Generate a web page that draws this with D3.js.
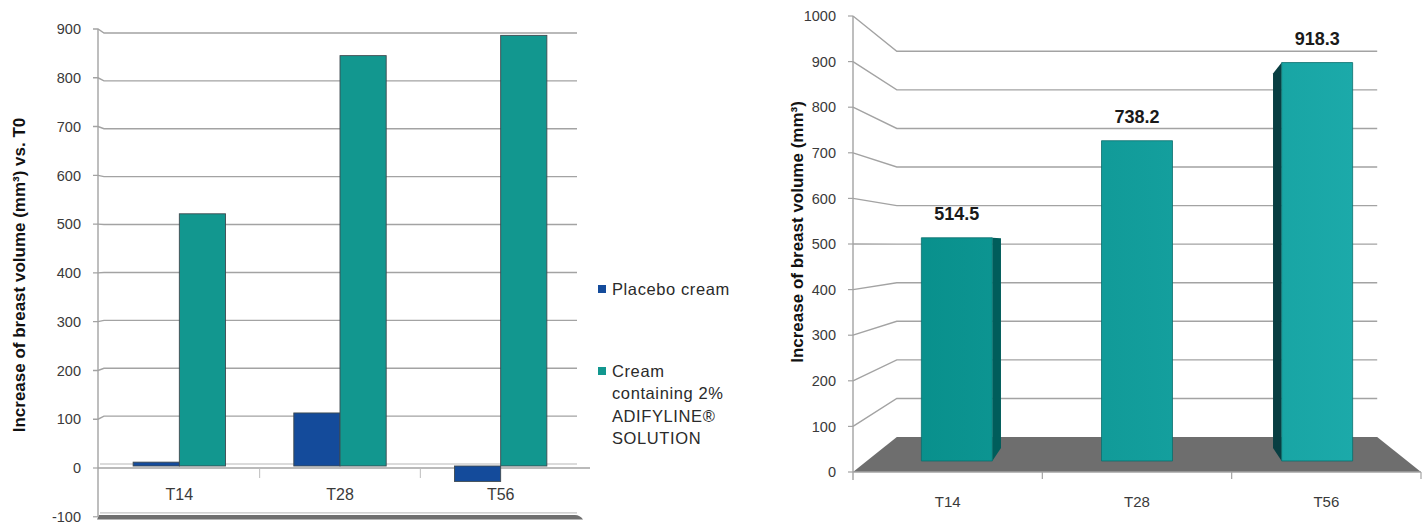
<!DOCTYPE html>
<html>
<head>
<meta charset="utf-8">
<script src="https://cdn.jsdelivr.net/npm/d3@7/dist/d3.min.js"></script>
<style>
  html, body { margin: 0; padding: 0; background: #ffffff; }
  svg { display: block; }
  text { font-family: "Liberation Sans", Arial, sans-serif; }
</style>
</head>
<body>
<svg id="chart" width="1426" height="527"></svg>
<script>
// ---- data ----
const categories = ["T14", "T28", "T56"];
const seriesNames = ["Placebo cream", "Cream containing 2% ADIFYLINE® SOLUTION"];
const placeboValues = [8, 110, -32];
const adifylineValues = [523, 851, 893];
const leftTicks = [-100, 0, 100, 200, 300, 400, 500, 600, 700, 800, 900];

const volumeValues = [514.5, 738.2, 918.3];
const rightTicks = [0, 100, 200, 300, 400, 500, 600, 700, 800, 900, 1000];

const legendLines = [["Placebo cream"], ["Cream", "containing 2%", "ADIFYLINE®", "SOLUTION"]];

const svg = d3.select("#chart");
const gridColor = "#a3a3a3";
const textColor = "#3a3a3a";

// =========================================================
// Left chart: clustered columns, placebo vs. active cream
// =========================================================
const L = svg.append("g");
const yFront = d3.scaleLinear().domain([0, 900]).range([468, 29]);
const yBack = d3.scaleLinear().domain([0, 900]).range([464, 33]);
const yBar = d3.scaleLinear().domain([0, 900]).range([466, 32]);
const xL = d3.scaleBand().domain(categories).range([99, 581]).paddingInner(0.425).paddingOuter(0.2125);
const xSeries = d3.scaleBand().domain([0, 1]).range([0, xL.bandwidth()]);
const seriesColors = ["#144b9b", "#12978f"];

// gridlines with a short receding segment at the wall
leftTicks.filter(v => v > 0).forEach(v => {
  L.append("path")
    .attr("d", `M93,${yFront(v)} H98 L104,${yBack(v)} H577`)
    .attr("fill", "none").attr("stroke", gridColor).attr("stroke-width", 1.4);
});
// tick marks for 0 and -100
[0, -100].forEach(v => {
  L.append("line").attr("x1", 93).attr("x2", 98)
    .attr("y1", yFront(v)).attr("y2", yFront(v))
    .attr("stroke", gridColor).attr("stroke-width", 1.2);
});
// zero plane: back edge and front edge
L.append("line").attr("x1", 100).attr("x2", 577)
  .attr("y1", yBack(0)).attr("y2", yBack(0))
  .attr("stroke", "#b8b8b8").attr("stroke-width", 1.2);
L.append("line").attr("x1", 98).attr("x2", 590)
  .attr("y1", yFront(0)).attr("y2", yFront(0))
  .attr("stroke", gridColor).attr("stroke-width", 1.3);

// floor at -100
L.append("line").attr("x1", 100).attr("x2", 577)
  .attr("y1", yBack(-100) + 1).attr("y2", yBack(-100) + 1)
  .attr("stroke", "#c4c4c4").attr("stroke-width", 1.2);
const fy = yBack(-100) + 3;
L.append("path")
  .attr("d", `M99,${fy} H575 Q580,${fy} 583,${fy + 4.5} H97 Z`)
  .attr("fill", "#6f6f6f");

// value axis
L.append("line").attr("x1", 98).attr("x2", 98)
  .attr("y1", yFront(900)).attr("y2", yFront(-100))
  .attr("stroke", gridColor).attr("stroke-width", 1.4);

// category ticks
[1, 2].forEach(i => {
  const x = xL.range()[0] + i * xL.step();
  L.append("line").attr("x1", x).attr("x2", x)
    .attr("y1", yFront(0)).attr("y2", yFront(0) + 10)
    .attr("stroke", "#bdbdbd").attr("stroke-width", 1);
});

// tick labels
L.selectAll("text.ytick").data(leftTicks).join("text")
  .attr("class", "ytick")
  .attr("x", 81).attr("y", d => yFront(d))
  .attr("dy", "0.36em").attr("text-anchor", "end")
  .attr("font-size", 14.5).attr("fill", textColor)
  .text(d => d);

// bars
categories.forEach((c, i) => {
  [placeboValues[i], adifylineValues[i]].forEach((v, s) => {
    const y0 = yBar(0), y1 = yBar(v);
    L.append("rect")
      .attr("x", xL(c) + xSeries(s))
      .attr("y", Math.min(y0, y1))
      .attr("width", xSeries.bandwidth())
      .attr("height", Math.abs(y1 - y0))
      .attr("fill", seriesColors[s])
      .attr("stroke", "#3f4a50").attr("stroke-width", 0.9);
  });
});

// category labels
L.selectAll("text.xcat").data(categories).join("text")
  .attr("class", "xcat")
  .attr("x", d => xL(d) + xL.bandwidth() / 2)
  .attr("y", 494).attr("dy", "0.36em")
  .attr("text-anchor", "middle")
  .attr("font-size", 16).attr("fill", textColor)
  .text(d => d);

// axis title
L.append("text")
  .attr("transform", "translate(19,275) rotate(-90)")
  .attr("text-anchor", "middle").attr("dy", "0.36em")
  .attr("font-size", 17).attr("font-weight", "bold").attr("fill", "#111")
  .text("Increase of breast volume (mm³) vs. T0");

// legend
const legend = svg.append("g");
const legendY = [289, 371];
legendLines.forEach((lines, s) => {
  legend.append("rect")
    .attr("x", 598).attr("y", legendY[s] - 4)
    .attr("width", 8).attr("height", 8)
    .attr("fill", seriesColors[s]);
  lines.forEach((t, j) => {
    legend.append("text")
      .attr("x", 612).attr("y", legendY[s] + j * 22.3)
      .attr("dy", "0.36em")
      .attr("font-size", 16.5).attr("letter-spacing", 0.6)
      .attr("fill", "#2a2a2a")
      .text(t);
  });
});

// =========================================================
// Right chart: 3-D columns in perspective
// =========================================================
const R = svg.append("g");
const vp = { x: 1137, y: 245 };               // vanishing point
const kWall = 0.8458, kBarFront = 0.9515, kBarBack = 0.8947;
const project = (x, y, k) => [vp.x + (x - vp.x) * k, vp.y + (y - vp.y) * k];
const yR = d3.scaleLinear().domain([0, 1000]).range([472, 16]);
const xR = d3.scaleBand().domain(categories).range([853, 1421]).paddingInner(0.606).paddingOuter(0.303);
const x0R = 853, x1R = 1421;
const line = d3.line();

// gridlines on the left wall and back wall
rightTicks.filter(v => v > 0).forEach(v => {
  const y = yR(v);
  R.append("path")
    .attr("d", line([[x0R, y], project(x0R, y, kWall), project(x1R, y, kWall)]))
    .attr("fill", "none").attr("stroke", gridColor).attr("stroke-width", 1.4);
});

// floor
R.append("path")
  .attr("d", line([[x0R, yR(0)], project(x0R, yR(0), kWall), project(x1R, yR(0), kWall), [x1R, yR(0)]]) + "Z")
  .attr("fill", "#6e6e6e");

// axes
R.append("line").attr("x1", x0R).attr("x2", x0R)
  .attr("y1", yR(1000)).attr("y2", yR(0) + 8)
  .attr("stroke", gridColor).attr("stroke-width", 1.4);
R.append("line").attr("x1", x0R).attr("x2", x1R)
  .attr("y1", yR(0)).attr("y2", yR(0))
  .attr("stroke", gridColor).attr("stroke-width", 1.4);
rightTicks.forEach(v => {
  R.append("line").attr("x1", x0R - 5).attr("x2", x0R)
    .attr("y1", yR(v)).attr("y2", yR(v))
    .attr("stroke", gridColor).attr("stroke-width", 1.2);
});
[1, 2, 3].forEach(i => {
  const x = x0R + i * xR.step();
  R.append("line").attr("x1", x).attr("x2", x)
    .attr("y1", yR(0)).attr("y2", yR(0) + 7)
    .attr("stroke", gridColor).attr("stroke-width", 1.2);
});

// tick labels
R.selectAll("text.ytick").data(rightTicks).join("text")
  .attr("class", "ytick")
  .attr("x", 836).attr("y", d => yR(d))
  .attr("dy", "0.36em").attr("text-anchor", "end")
  .attr("font-size", 14.5).attr("fill", textColor)
  .text(d => d);

// front-face shading
const defs = svg.append("defs");
const grad = defs.append("linearGradient").attr("id", "frontFace")
  .attr("gradientUnits", "userSpaceOnUse")
  .attr("x1", 900).attr("x2", 1360).attr("y1", 0).attr("y2", 0);
grad.append("stop").attr("offset", 0).attr("stop-color", "#088f8b");
grad.append("stop").attr("offset", 1).attr("stop-color", "#1caaaa");

// columns
categories.forEach((c, i) => {
  const v = volumeValues[i];
  const xa = xR(c), xb = xa + xR.bandwidth();
  const yt = yR(v), yb = yR(0);
  const mid = (xa + xb) / 2;
  const sideX = mid < vp.x ? xb : xa;
  const sideColor = mid < vp.x ? "#005d5b" : "#083e42";
  if (Math.abs(mid - vp.x) > 2) {
    R.append("path")
      .attr("d", line([
        project(sideX, yt, kBarFront), project(sideX, yt, kBarBack),
        project(sideX, yb, kBarBack), project(sideX, yb, kBarFront)
      ]) + "Z")
      .attr("fill", sideColor);
  }
  R.append("path")
    .attr("d", line([
      project(xa, yt, kBarFront), project(xb, yt, kBarFront),
      project(xb, yb, kBarFront), project(xa, yb, kBarFront)
    ]) + "Z")
    .attr("fill", "url(#frontFace)")
    .attr("stroke", "#0b6f6d").attr("stroke-width", 0.8);
  const top = project(mid, yt, kBarFront);
  R.append("text")
    .attr("x", top[0]).attr("y", top[1] - 24)
    .attr("dy", "0.36em").attr("text-anchor", "middle")
    .attr("font-size", 18).attr("font-weight", "bold").attr("fill", "#1a1a1a")
    .text(d3.format(".1f")(v));
});

// category labels
R.selectAll("text.xcat").data(categories).join("text")
  .attr("class", "xcat")
  .attr("x", d => xR(d) + xR.bandwidth() / 2)
  .attr("y", 502).attr("dy", "0.36em")
  .attr("text-anchor", "middle")
  .attr("font-size", 15).attr("fill", textColor)
  .text(d => d);

// axis title
R.append("text")
  .attr("transform", "translate(797,232) rotate(-90)")
  .attr("text-anchor", "middle").attr("dy", "0.36em")
  .attr("font-size", 17).attr("font-weight", "bold").attr("fill", "#111")
  .text("Increase of breast volume (mm³)");
</script>
</body>
</html>
